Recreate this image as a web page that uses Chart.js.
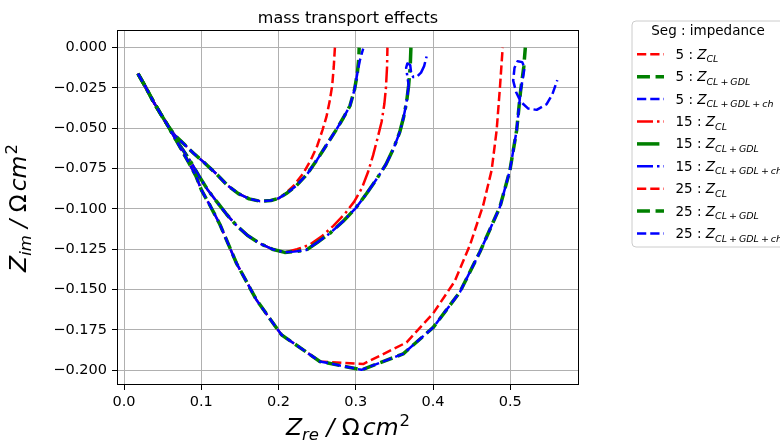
<!DOCTYPE html>
<html>
<head>
<meta charset="utf-8">
<script src="https://cdn.jsdelivr.net/npm/chart.js@4/dist/chart.umd.min.js"></script>
<style>
  html, body { margin: 0; padding: 0; background: #fff; overflow: hidden; }
  canvas { display: block; }
</style>
</head>
<body>
<canvas id="c" width="780" height="441"></canvas>
<script>
// ---- tick values and labels ----
const xTicks = [0.0, 0.1, 0.2, 0.3, 0.4, 0.5];
const xTickLabels = ['0.0', '0.1', '0.2', '0.3', '0.4', '0.5'];
const yTicks = [0.0, -0.025, -0.05, -0.075, -0.1, -0.125, -0.15, -0.175, -0.2];
const yTickLabels = ['0.000', '\u22120.025', '\u22120.050', '\u22120.075', '\u22120.100',
                     '\u22120.125', '\u22120.150', '\u22120.175', '\u22120.200'];

// ---- legend text parts ----
const segments = ['5', '15', '25'];
const impedances = [['CL'], ['CL', 'GDL'], ['CL', 'GDL', 'ch']];

// ---- Nyquist data: [Z_re, Z_im] in Ohm cm^2 ----
const highFreq = [[0.018, -0.0161], [0.028, -0.0245], [0.038, -0.0335], [0.048, -0.0415], [0.056, -0.0478]];

const seg5_arc = [[0.066, -0.0545], [0.077, -0.0595], [0.090, -0.0655], [0.105, -0.0718], [0.120, -0.0785],
                  [0.134, -0.0855], [0.148, -0.0905], [0.162, -0.0938], [0.176, -0.0952], [0.190, -0.0948],
                  [0.200, -0.0935]];
const seg5_CL = [[0.206, -0.0915], [0.219, -0.0860], [0.232, -0.0780], [0.242, -0.0695], [0.250, -0.0610],
                 [0.257, -0.0510], [0.262, -0.0430], [0.2665, -0.0325], [0.2695, -0.0235], [0.2715, -0.0120],
                 [0.273, 0.0]];
const seg5_GDL = [[0.210, -0.0905], [0.2233, -0.0855], [0.237, -0.0785], [0.250, -0.0695], [0.262, -0.0605],
                  [0.274, -0.0515], [0.284, -0.0435], [0.2924, -0.0362], [0.2985, -0.0258], [0.302, -0.0160],
                  [0.304, -0.0065], [0.3044, 0.0]];
const seg5_ch = [[0.210, -0.0905], [0.2233, -0.0855], [0.237, -0.0785], [0.250, -0.0695], [0.262, -0.0605],
                 [0.274, -0.0515], [0.284, -0.0435], [0.2924, -0.0362], [0.2985, -0.0258], [0.302, -0.0160],
                 [0.3053, -0.0079], [0.3096, -0.0006]];

const seg15_arc = [[0.065, -0.0555], [0.075, -0.0625], [0.086, -0.0705], [0.097, -0.0795], [0.108, -0.0880],
                   [0.120, -0.0955], [0.133, -0.1035], [0.146, -0.1105], [0.160, -0.1165], [0.176, -0.1215],
                   [0.192, -0.1250], [0.208, -0.1270]];
const seg15_CL = [[0.224, -0.1250], [0.2405, -0.1222], [0.256, -0.1170], [0.271, -0.1105], [0.286, -0.1030],
                  [0.298, -0.0955], [0.308, -0.0870], [0.316, -0.0770], [0.3225, -0.0667], [0.328, -0.0565],
                  [0.3334, -0.0461], [0.337, -0.0350], [0.339, -0.0254], [0.3405, -0.0120], [0.341, 0.0]];
const seg15_GDL = [[0.220, -0.1265], [0.236, -0.1255], [0.251, -0.1205], [0.2664, -0.1152], [0.284, -0.1075],
                   [0.300, -0.0995], [0.314, -0.0905], [0.327, -0.0815], [0.339, -0.0725], [0.349, -0.0625],
                   [0.357, -0.0523], [0.362, -0.0430], [0.3658, -0.0337], [0.3685, -0.0233], [0.3705, -0.0120],
                   [0.3714, 0.0]];
const seg15_ch = [[0.220, -0.1265], [0.236, -0.1255], [0.251, -0.1205], [0.2664, -0.1152], [0.284, -0.1075],
                  [0.300, -0.0995], [0.314, -0.0905], [0.327, -0.0815], [0.339, -0.0725], [0.349, -0.0625],
                  [0.357, -0.0523], [0.362, -0.0430], [0.3658, -0.0337], [0.3685, -0.0233], [0.3670, -0.0185],
                  [0.3652, -0.0125], [0.3668, -0.0098], [0.3705, -0.0108], [0.3718, -0.0160], [0.3745, -0.0183],
                  [0.3787, -0.0182], [0.3845, -0.0155], [0.3885, -0.0115], [0.3917, -0.0055]];

const seg25_arc = [[0.064, -0.0545], [0.074, -0.0630], [0.084, -0.0715], [0.093, -0.0795], [0.1003, -0.0884],
                   [0.112, -0.0985], [0.124, -0.1095], [0.1456, -0.1337], [0.1715, -0.1565], [0.2039, -0.1781],
                   [0.2535, -0.1946]];
const seg25_CL = [[0.3096, -0.1962], [0.3658, -0.1828], [0.4003, -0.1647], [0.428, -0.1450], [0.4478, -0.1225],
                  [0.465, -0.0977], [0.4759, -0.0760], [0.4824, -0.0512], [0.4867, -0.0244], [0.4902, 0.0]];
const seg25_GDL = [[0.3075, -0.1998], [0.3614, -0.1899], [0.4003, -0.1735], [0.4349, -0.1515], [0.4608, -0.1266],
                   [0.4867, -0.0987], [0.4996, -0.0760], [0.5083, -0.0512], [0.5135, -0.0264], [0.5175, -0.0120],
                   [0.5195, 0.0]];
const seg25_ch = [[0.3075, -0.1998], [0.3614, -0.1899], [0.4003, -0.1735], [0.4349, -0.1515], [0.4608, -0.1266],
                  [0.4867, -0.0987], [0.4996, -0.0760], [0.5083, -0.0512], [0.5135, -0.0264], [0.5170, -0.0170],
                  [0.5185, -0.0125], [0.5155, -0.0090], [0.5095, -0.0085], [0.5055, -0.0125], [0.5038, -0.0205],
                  [0.5075, -0.0275], [0.5135, -0.0335], [0.5233, -0.0378], [0.5342, -0.0386], [0.5471, -0.0351],
                  [0.5545, -0.0290], [0.5609, -0.0202]];

// ---- line styles ----
const RED = '#ff0000', GREEN = '#008000', BLUE = '#0000ff';
const THIN = 2.5, THICK = 3.5;
const dashed = w => [3.7 * w, 1.6 * w];
const dashDot = w => [6.4 * w, 1.6 * w, 1.0 * w, 1.6 * w];

function series(seg, imp, color, width, dash, pts) {
  return { seg, imp, data: pts, borderColor: color, backgroundColor: color, borderWidth: width,
           borderDash: dash, showLine: true, pointRadius: 0, tension: 0,
           borderCapStyle: 'butt', borderJoinStyle: 'round', fill: false };
}

const list = [
  series(0, 0, RED,   THIN,  dashed(THIN),   [...highFreq, ...seg5_arc, ...seg5_CL]),
  series(0, 1, GREEN, THICK, dashed(THICK),  [...highFreq, ...seg5_arc, ...seg5_GDL]),
  series(0, 2, BLUE,  THIN,  dashed(THIN),   [...highFreq, ...seg5_arc, ...seg5_ch]),
  series(1, 0, RED,   THIN,  dashDot(THIN),  [...highFreq, ...seg15_arc, ...seg15_CL]),
  series(1, 1, GREEN, THICK, dashDot(THICK), [...highFreq, ...seg15_arc, ...seg15_GDL]),
  series(1, 2, BLUE,  THIN,  dashDot(THIN),  [...highFreq, ...seg15_arc, ...seg15_ch]),
  series(2, 0, RED,   THIN,  dashed(THIN),   [...highFreq, ...seg25_arc, ...seg25_CL]),
  series(2, 1, GREEN, THICK, dashed(THICK),  [...highFreq, ...seg25_arc, ...seg25_GDL]),
  series(2, 2, BLUE,  THIN,  dashed(THIN),   [...highFreq, ...seg25_arc, ...seg25_ch])
];
// later series are painted on top
list.forEach((d, i) => { d.order = list.length - i; });

const FAMILY = '"DejaVu Sans", "Liberation Sans", sans-serif';
function fontOf(r) { return (r.italic ? 'italic ' : '') + r.size + 'px ' + FAMILY; }

// draws a row of text runs (used for subscripts / superscripts)
function drawRuns(ctx, runs, x, y, align) {
  let total = 0;
  for (const r of runs) {
    ctx.font = fontOf(r);
    r.w = ctx.measureText(r.text).width;
    total += r.w + (r.dx || 0);
  }
  let cx = align === 'center' ? x - total / 2 : x;
  for (const r of runs) {
    ctx.font = fontOf(r);
    cx += r.dx || 0;
    ctx.fillText(r.text, cx, y + (r.dy || 0));
    cx += r.w;
  }
}

function subscriptRuns(parts, size) {
  const runs = [];
  parts.forEach((p, i) => {
    if (i > 0) runs.push({ text: '+', size, italic: false, dy: 3.5, dx: 2 });
    runs.push({ text: p, size, italic: true, dy: 3.5, dx: i > 0 ? 2 : 0 });
  });
  return runs;
}

const decorations = {
  id: 'decorations',
  afterDatasetsDraw(chart) {
    const ctx = chart.ctx, a = chart.chartArea;
    ctx.save();
    ctx.strokeStyle = '#000';
    ctx.lineWidth = 1;
    ctx.strokeRect(Math.round(a.left) + 0.5, Math.round(a.top) - 0.5,
                   Math.round(a.right - a.left) - 1, Math.round(a.bottom - a.top));
    ctx.restore();
  },
  afterDraw(chart) {
    const ctx = chart.ctx, a = chart.chartArea;
    const cx = (a.left + a.right) / 2, cy = (a.top + a.bottom) / 2;
    ctx.save();
    ctx.fillStyle = '#000';
    ctx.textBaseline = 'alphabetic';

    // title
    ctx.font = '16px ' + FAMILY;
    ctx.textAlign = 'center';
    ctx.fillText('mass transport effects', cx, 23);
    ctx.textAlign = 'left';

    // axis titles
    const big = 23.5, small = 16.5;
    const axisRuns = sub => [
      { text: 'Z', size: big, italic: true },
      { text: sub, size: small, italic: true, dy: 4.5 },
      { text: ' / ', size: big, italic: true },
      { text: '\u03A9', size: big, italic: false },
      { text: 'cm', size: big, italic: true, dx: 3 },
      { text: '2', size: small, italic: false, dy: -9.5, dx: 1 }
    ];
    drawRuns(ctx, axisRuns('re'), cx, 435, 'center');
    ctx.save();
    ctx.translate(26, cy);
    ctx.rotate(-Math.PI / 2);
    drawRuns(ctx, axisRuns('im'), 0, 0, 'center');
    ctx.restore();

    // legend
    const lx = 632, ly = 21, lw = 170, lh = 226, rad = 4;
    ctx.beginPath();
    ctx.moveTo(lx + rad, ly);
    ctx.lineTo(lx + lw - rad, ly);
    ctx.arcTo(lx + lw, ly, lx + lw, ly + rad, rad);
    ctx.lineTo(lx + lw, ly + lh - rad);
    ctx.arcTo(lx + lw, ly + lh, lx + lw - rad, ly + lh, rad);
    ctx.lineTo(lx + rad, ly + lh);
    ctx.arcTo(lx, ly + lh, lx, ly + lh - rad, rad);
    ctx.lineTo(lx, ly + rad);
    ctx.arcTo(lx, ly, lx + rad, ly, rad);
    ctx.closePath();
    ctx.fillStyle = 'rgba(255,255,255,0.8)';
    ctx.fill();
    ctx.strokeStyle = '#cccccc';
    ctx.lineWidth = 1;
    ctx.stroke();

    ctx.fillStyle = '#000';
    ctx.font = '13.5px ' + FAMILY;
    ctx.textAlign = 'center';
    ctx.fillText('Seg : impedance', 708, 35);
    ctx.textAlign = 'left';

    chart.data.datasets.forEach((d, i) => {
      const y = 54.3 + 22.4 * i;
      ctx.save();
      ctx.strokeStyle = d.borderColor;
      ctx.lineWidth = d.borderWidth;
      ctx.setLineDash(d.borderDash);
      ctx.lineCap = 'butt';
      ctx.beginPath();
      ctx.moveTo(637, y);
      ctx.lineTo(664, y);
      ctx.stroke();
      ctx.restore();
      ctx.fillStyle = '#000';
      const runs = [
        { text: segments[d.seg] + ' : ', size: 13.5, italic: false },
        { text: 'Z', size: 13.5, italic: true },
        ...subscriptRuns(impedances[d.imp], 9.5)
      ];
      drawRuns(ctx, runs, 675.5, y + 4.5, 'left');
    });
    ctx.restore();
  }
};

const tickFont = { family: FAMILY, size: 14.5 };

new Chart(document.getElementById('c').getContext('2d'), {
  type: 'scatter',
  data: { datasets: list },
  options: {
    responsive: false,
    animation: false,
    devicePixelRatio: 1,
    layout: { padding: { left: 0, top: 31, right: 201, bottom: 0 } },
    plugins: { legend: { display: false }, tooltip: { enabled: false }, title: { display: false } },
    scales: {
      x: {
        type: 'linear', min: -0.0091, max: 0.589,
        afterFit(s) { s.height = 56; },
        afterBuildTicks(s) { s.ticks = xTicks.map(v => ({ value: v })); },
        ticks: { autoSkip: false, maxRotation: 0, padding: 4, color: '#000', font: tickFont,
                 callback: (v, i) => xTickLabels[i] },
        grid: { color: '#b0b0b0', lineWidth: 1, tickColor: '#000', tickLength: 5 },
        border: { display: false }
      },
      y: {
        type: 'linear', min: -0.2092, max: 0.0103,
        afterFit(s) { s.width = 117; },
        afterBuildTicks(s) { s.ticks = yTicks.map(v => ({ value: v })); },
        ticks: { autoSkip: false, padding: 5, color: '#000', font: tickFont,
                 callback: (v, i) => yTickLabels[i] },
        grid: { color: '#b0b0b0', lineWidth: 1, tickColor: '#000', tickLength: 5 },
        border: { display: false }
      }
    }
  },
  plugins: [decorations]
});
</script>
</body>
</html>
